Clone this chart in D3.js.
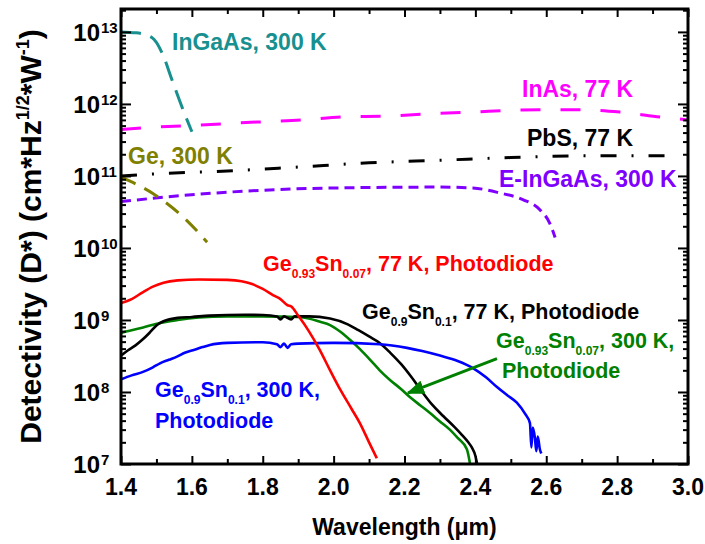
<!DOCTYPE html>
<html lang="en">
<head>
    <meta charset="UTF-8">
    <title>Detectivity vs wavelength</title>
    <style>
        html,
        body {
            margin: 0;
            padding: 0;
            background: #fff;
        }

        svg {
            display: block;
            font-family: "Liberation Sans", Arial, sans-serif;
            font-weight: bold;
        }
    </style>
</head>
<body>
    <div id="wrapper"></div>

    <script src="https://d3js.org/d3.v7.min.js"></script>
    <script>
        // [wavelength (um), D* (cm*Hz^1/2/W)]
        const geSn093_77K = [[1.40, 1.72e9], [1.43, 1.95e9], [1.46, 2.4e9], [1.49, 2.9e9], [1.52, 3.3e9], [1.56, 3.55e9],
            [1.62, 3.65e9], [1.70, 3.6e9], [1.74, 3.45e9], [1.77, 3.15e9], [1.80, 2.7e9], [1.83, 2.2e9], [1.85, 1.95e9],
            [1.87, 1.6e9], [1.88, 1.55e9], [1.90, 1.15e9], [1.93, 7e8], [1.96, 3.9e8], [1.99, 2.0e8], [2.02, 1.05e8],
            [2.05, 5.9e7], [2.074, 3.7e7], [2.10, 2.0e7], [2.122, 1.2e7]];
        const geSn09_77K = [[1.40, 3.2e8], [1.42, 3.8e8], [1.44, 4.4e8], [1.46, 5.3e8], [1.48, 6.6e8], [1.50, 8.4e8],
            [1.52, 9.6e8], [1.56, 1.07e9], [1.60, 1.1e9], [1.65, 1.15e9], [1.75, 1.18e9], [1.80, 1.17e9], [1.84, 1.12e9],
            [1.85, 1.02e9], [1.86, 1.12e9], [1.88, 1.02e9], [1.89, 1.12e9], [1.93, 1.12e9], [1.99, 1.05e9], [2.04, 8.7e8],
            [2.07, 7.2e8], [2.10, 5.9e8], [2.13, 4.8e8], [2.16, 3.5e8], [2.19, 2.45e8], [2.22, 1.6e8], [2.25, 1.0e8],
            [2.28, 6.5e7], [2.31, 4.6e7], [2.34, 3.3e7], [2.36, 2.6e7], [2.38, 2.0e7], [2.39, 1.7e7], [2.40, 1.3e7],
            [2.405, 1.0e7]];
        const geSn093_300K = [[1.40, 6.6e8], [1.43, 7.2e8], [1.46, 7.8e8], [1.51, 9.1e8], [1.56, 1.0e9], [1.62, 1.08e9],
            [1.70, 1.12e9], [1.80, 1.12e9], [1.90, 1.1e9], [1.93, 1.05e9], [1.96, 9.5e8], [1.99, 8.5e8], [2.02, 6.8e8],
            [2.046, 5.3e8], [2.075, 3.9e8], [2.103, 2.8e8], [2.13, 2.0e8], [2.159, 1.47e8], [2.19, 1.1e8], [2.215, 8.5e7],
            [2.245, 6.5e7], [2.272, 5.1e7], [2.30, 3.9e7], [2.328, 3.0e7], [2.35, 2.3e7], [2.376, 1.6e7], [2.385, 1.0e7]];
        const geSn09_300K = [[1.40, 1.5e8], [1.43, 1.7e8], [1.462, 1.9e8], [1.49, 2.2e8], [1.51, 2.5e8], [1.535, 2.8e8],
            [1.558, 3.1e8], [1.58, 3.5e8], [1.603, 3.8e8], [1.63, 4.2e8], [1.651, 4.5e8], [1.70, 4.8e8], [1.80, 4.9e8],
            [1.84, 4.6e8], [1.85, 4.2e8], [1.86, 4.7e8], [1.87, 4.1e8], [1.88, 4.6e8], [1.90, 4.7e8], [2.00, 4.8e8],
            [2.13, 4.6e8], [2.207, 4.1e8], [2.25, 3.7e8], [2.30, 3.2e8], [2.35, 2.7e8], [2.393, 2.15e8], [2.43, 1.6e8],
            [2.461, 1.17e8], [2.49, 9e7], [2.517, 7.1e7], [2.54, 5e7], [2.554, 3.7e7], [2.558, 1.7e7], [2.562, 3.2e7],
            [2.568, 2.3e7], [2.572, 1.5e7], [2.576, 2.4e7], [2.582, 1.6e7], [2.586, 1.4e7]];

        // commercial detectors
        const inGaAs_300K = [[1.40, 1.0e13], [1.443, 9.7e12], [1.488, 8.3e12], [1.516, 5.1e12], [1.544, 2.15e12],
            [1.572, 9.1e11], [1.60, 4.1e11]];
        const inAs_77K = [[1.40, 4.4e11], [1.48, 4.7e11], [1.623, 5.1e11], [1.784, 5.6e11], [1.914, 6.0e11], [2.026, 6.6e11],
            [2.159, 6.8e11], [2.272, 7.3e11], [2.385, 7.7e11], [2.582, 8.3e11], [2.695, 8.3e11], [2.808, 7.7e11],
            [2.921, 6.6e11], [3.0, 6.0e11]];
        const pbS_77K = [[1.40, 1.0e11], [1.50, 1.07e11], [1.70, 1.17e11], [1.90, 1.33e11], [2.10, 1.52e11], [2.30, 1.65e11],
            [2.50, 1.8e11], [2.70, 1.9e11], [2.94, 1.9e11]];
        const eInGaAs_300K = [[1.40, 4.4e10], [1.527, 5.1e10], [1.713, 6.0e10], [1.995, 6.8e10], [2.30, 7.0e10],
            [2.393, 6.8e10], [2.469, 5.8e10], [2.534, 4.7e10], [2.582, 3.4e10], [2.61, 2.2e10], [2.625, 1.4e10]];
        const ge_300K = [[1.40, 9.6e10], [1.49, 5.7e10], [1.586, 2.4e10], [1.643, 1.2e10]];

        // arrow pointing at the Ge0.93Sn0.07 300 K curve: [from, to]
        const arrowPts = [[2.461, 2.9e8], [2.21, 9.7e7]];

        const xTicks = [1.4, 1.6, 1.8, 2.0, 2.2, 2.4, 2.6, 2.8, 3.0];
        const xMinorTicks = [1.5, 1.7, 1.9, 2.1, 2.3, 2.5, 2.7, 2.9];
        const yDecades = [7, 8, 9, 10, 11, 12, 13];

        const width = 705, height = 544;
        const plot = { left: 121, right: 688, top: 9, bottom: 464 };

        const svg = d3.select('#wrapper').append('svg')
            .attr('width', width)
            .attr('height', height);

        const xScale = d3.scaleLinear().domain([1.4, 3.0]).range([plot.left, plot.right]);
        const yScale = d3.scaleLog().domain([1e7, 2.08e13]).range([plot.bottom, plot.top]);

        // minor y ticks: 2..9 in every decade
        const yMajor = yDecades.map(d => Math.pow(10, d));
        const yMinor = [];
        yDecades.forEach(d => {
            for (let m = 2; m <= 9; m++) {
                const v = m * Math.pow(10, d);
                if (v <= yScale.domain()[1]) yMinor.push(v);
            }
        });

        // text with sub / superscripts
        function richText(parent, x, y, parts, size, color, anchor) {
            const t = parent.append('text')
                .attr('x', x)
                .attr('y', y)
                .attr('font-size', size)
                .attr('fill', color)
                .attr('text-anchor', anchor || 'start');
            let shift = 0;
            parts.forEach(p => {
                const s = typeof p === 'string' ? { t: p } : p;
                const target = s.sub ? size * 0.33 : s.sup ? -size * 0.4 : 0;
                t.append('tspan')
                    .attr('dy', target - shift)
                    .attr('font-size', s.sub ? size * 0.56 : s.sup ? size * 0.6 : size)
                    .text(s.t);
                shift = target;
            });
            return t;
        }

        // ---- curves ----
        const lineGen = d3.line()
            .x(d => xScale(d[0]))
            .y(d => yScale(d[1]))
            .curve(d3.curveMonotoneX);

        const series = [
            { data: inGaAs_300K, color: '#17908f', dash: '20,10', w: 3 },
            { data: inAs_77K, color: '#ff00ff', dash: '20,20', w: 3 },
            { data: pbS_77K, color: '#000000', dash: '16,15,2,15', w: 3 },
            { data: eInGaAs_300K, color: '#7f00ff', dash: '10,6', w: 3 },
            { data: ge_300K, color: '#808000', dash: '16,10', w: 3 },
            { data: geSn093_300K, color: '#008000', dash: null, w: 2.6 },
            { data: geSn09_77K, color: '#000000', dash: null, w: 2.6 },
            { data: geSn09_300K, color: '#0000ff', dash: null, w: 2.6 },
            { data: geSn093_77K, color: '#ff0000', dash: null, w: 2.6 }
        ];

        svg.append('g')
            .selectAll('path')
            .data(series)
            .join('path')
            .attr('d', d => lineGen(d.data))
            .attr('fill', 'none')
            .attr('stroke', d => d.color)
            .attr('stroke-width', d => d.w)
            .attr('stroke-dasharray', d => d.dash);

        // ---- axes (ticks inward on all four sides) ----
        function addAxis(axis, tx, ty) {
            const g = svg.append('g')
                .attr('transform', `translate(${tx},${ty})`)
                .call(axis);
            g.select('.domain').remove();
            g.selectAll('.tick line').attr('stroke', '#000').attr('stroke-width', 2);
            g.selectAll('.tick text').remove();
        }

        addAxis(d3.axisBottom(xScale).tickValues(xTicks).tickSizeInner(-8).tickSizeOuter(0), 0, plot.bottom);
        addAxis(d3.axisBottom(xScale).tickValues(xMinorTicks).tickSizeInner(-5).tickSizeOuter(0), 0, plot.bottom);
        addAxis(d3.axisTop(xScale).tickValues(xTicks).tickSizeInner(-8).tickSizeOuter(0), 0, plot.top);
        addAxis(d3.axisTop(xScale).tickValues(xMinorTicks).tickSizeInner(-5).tickSizeOuter(0), 0, plot.top);
        addAxis(d3.axisLeft(yScale).tickValues(yMajor).tickSizeInner(-10).tickSizeOuter(0), plot.left, 0);
        addAxis(d3.axisLeft(yScale).tickValues(yMinor).tickSizeInner(-5).tickSizeOuter(0), plot.left, 0);
        addAxis(d3.axisRight(yScale).tickValues(yMajor).tickSizeInner(-10).tickSizeOuter(0), plot.right, 0);
        addAxis(d3.axisRight(yScale).tickValues(yMinor).tickSizeInner(-5).tickSizeOuter(0), plot.right, 0);

        // frame
        svg.append('rect')
            .attr('x', plot.left)
            .attr('y', plot.top)
            .attr('width', plot.right - plot.left)
            .attr('height', plot.bottom - plot.top)
            .attr('fill', 'none')
            .attr('stroke', '#000')
            .attr('stroke-width', 3);

        // x tick labels
        svg.append('g')
            .selectAll('text')
            .data(xTicks)
            .join('text')
            .attr('x', d => xScale(d))
            .attr('y', 495)
            .attr('text-anchor', 'middle')
            .attr('font-size', 23)
            .text(d => d3.format('.1f')(d));

        // y tick labels 10^n
        const yLab = svg.append('g');
        yDecades.forEach(d => {
            const yy = yScale(Math.pow(10, d));
            yLab.append('text')
                .attr('x', 100)
                .attr('y', yy + 9)
                .attr('text-anchor', 'end')
                .attr('font-size', 24)
                .text('10');
            yLab.append('text')
                .attr('x', 101)
                .attr('y', yy + 1)
                .attr('font-size', 15)
                .text(d);
        });

        // axis titles
        svg.append('text')
            .attr('x', (plot.left + plot.right) / 2)
            .attr('y', 535)
            .attr('text-anchor', 'middle')
            .attr('font-size', 23)
            .text('Wavelength (\u03bcm)');

        const yTitle = svg.append('g')
            .attr('transform', `translate(41,${(plot.top + plot.bottom) / 2}) rotate(-90)`);
        richText(yTitle, 0, 0, ['Detectivity (D*) (cm*Hz', { t: '1/2', sup: true }, '*W', { t: '-1', sup: true }, ')'],
            30, '#000', 'middle');

        // ---- curve labels ----
        richText(svg, 172, 50, ['InGaAs, 300 K'], 23, '#17908f');
        richText(svg, 522, 97, ['InAs, 77 K'], 23, '#ff00ff');
        richText(svg, 527, 146, ['PbS, 77 K'], 23, '#000');
        richText(svg, 499, 187, ['E-InGaAs, 300 K'], 23, '#7f00ff');
        richText(svg, 128, 164, ['Ge, 300 K'], 23, '#808000');
        richText(svg, 263, 271, ['Ge', { t: '0.93', sub: true }, 'Sn', { t: '0.07', sub: true }, ', 77 K, Photodiode'], 21.5, '#ff0000');
        richText(svg, 362, 319, ['Ge', { t: '0.9', sub: true }, 'Sn', { t: '0.1', sub: true }, ', 77 K, Photodiode'], 21.5, '#000');
        richText(svg, 496, 348, ['Ge', { t: '0.93', sub: true }, 'Sn', { t: '0.07', sub: true }, ', 300 K,'], 21.5, '#008000');
        richText(svg, 502, 378, ['Photodiode'], 21.5, '#008000');
        richText(svg, 155, 397, ['Ge', { t: '0.9', sub: true }, 'Sn', { t: '0.1', sub: true }, ', 300 K,'], 21.5, '#0000ff');
        richText(svg, 155, 428, ['Photodiode'], 21.5, '#0000ff');

        // arrow
        svg.append('defs').append('marker')
            .attr('id', 'arrowHead')
            .attr('markerUnits', 'userSpaceOnUse')
            .attr('markerWidth', 18)
            .attr('markerHeight', 14)
            .attr('refX', 16)
            .attr('refY', 7)
            .attr('orient', 'auto')
            .append('path')
            .attr('d', 'M0,0 L18,7 L0,14 Z')
            .attr('fill', '#008000');

        svg.append('line')
            .attr('x1', xScale(arrowPts[0][0]))
            .attr('y1', yScale(arrowPts[0][1]))
            .attr('x2', xScale(arrowPts[1][0]))
            .attr('y2', yScale(arrowPts[1][1]))
            .attr('stroke', '#008000')
            .attr('stroke-width', 3)
            .attr('marker-end', 'url(#arrowHead)');
    </script>
</body>
</html>
